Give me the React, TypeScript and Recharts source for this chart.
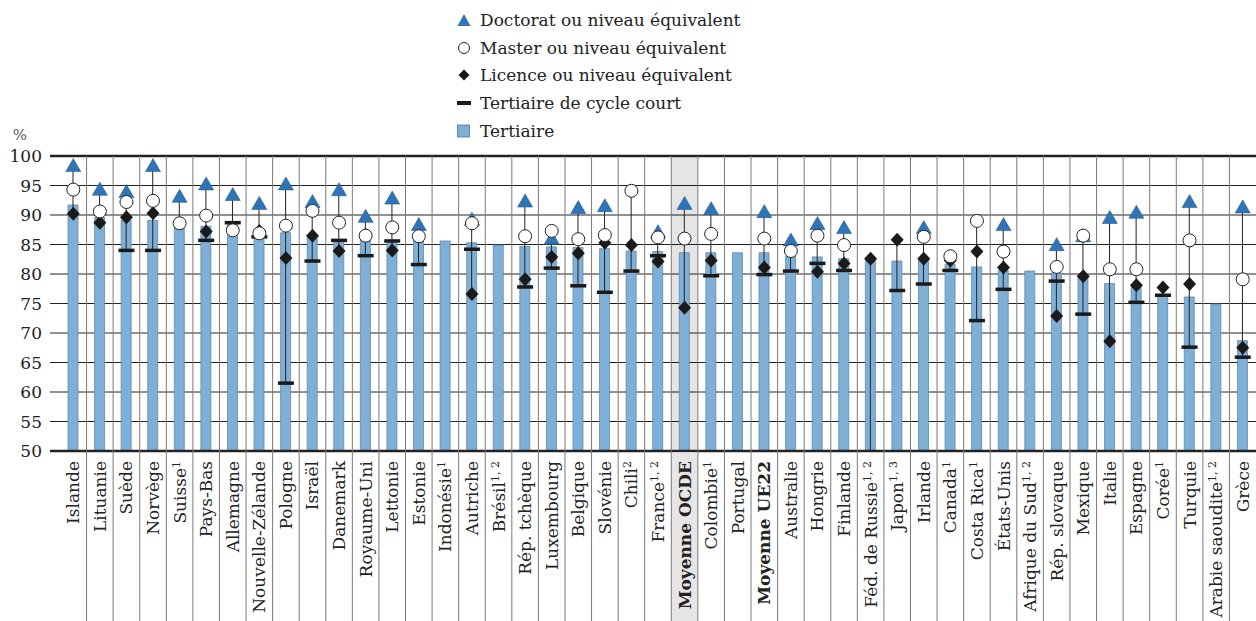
import React from 'react';
import {
  ComposedChart,
  Bar,
  Line,
  XAxis,
  YAxis,
  CartesianGrid,
  ReferenceArea,
  ReferenceLine,
} from 'recharts';

const countries = [
  'Islande', 'Lituanie', 'Suède', 'Norvège', 'Suisse', 'Pays-Bas', 'Allemagne',
  'Nouvelle-Zélande', 'Pologne', 'Israël', 'Danemark', 'Royaume-Uni', 'Lettonie',
  'Estonie', 'Indonésie', 'Autriche', 'Brésil', 'Rép. tchèque', 'Luxembourg',
  'Belgique', 'Slovénie', 'Chili', 'France', 'Moyenne OCDE', 'Colombie', 'Portugal',
  'Moyenne UE22', 'Australie', 'Hongrie', 'Finlande', 'Féd. de Russie', 'Japon',
  'Irlande', 'Canada', 'Costa Rica', 'États-Unis', 'Afrique du Sud', 'Rép. slovaque',
  'Mexique', 'Italie', 'Espagne', 'Corée', 'Turquie', 'Arabie saoudite', 'Grèce',
];

const notes = [
  '', '', '', '', '1', '', '', '', '', '', '', '', '', '', '1', '', '1, 2', '', '',
  '', '', '2', '1, 2', '', '1', '', '', '', '', '', '1, 2', '1, 3', '', '1', '1', '',
  '1, 2', '', '', '', '', '1', '', '1, 2', '',
];

const tertiary = [
  91.7, 89.6, 89.1, 89.1, 88.6, 88.1, 88.7, 86.4, 87.0, 86.3, 85.5, 85.9, 85.3, 85.7,
  85.6, 85.3, 84.9, 84.7, 84.6, 84.5, 84.3, 83.9, 83.8, 83.6, 83.6, 83.6, 83.6, 83.0,
  82.9, 82.6, 82.3, 82.2, 82.3, 81.7, 81.2, 80.6, 80.5, 80.2, 79.8, 78.4, 77.8, 76.5,
  76.1, 74.9, 68.7,
];

const shortCycle = [
  null, null, 84.0, 84.0, null, 85.7, 88.7, 86.3, 61.5, 82.2, 85.7, 83.1, 85.6, 81.6,
  null, 84.2, null, 77.8, 81.0, 78.0, 76.9, 80.5, 83.1, null, 79.7, null, 79.9, 80.5,
  81.8, 80.6, 45.0, 77.2, 78.3, 80.6, 72.1, 77.4, null, 78.8, 73.2, null, 75.2, 76.4,
  67.6, null, 65.9,
];

const bachelor = [
  90.2, 88.7, 89.6, 90.3, null, 87.2, 87.8, 87.3, 82.7, 86.5, 83.9, 86.6, 84.0, null,
  null, 76.6, null, 79.1, 82.9, 83.5, 85.3, 84.9, 82.1, 74.3, 82.3, null, 81.1, null,
  80.4, 81.8, 82.6, 85.8, 82.6, 82.3, 83.8, 81.1, null, 72.9, 79.6, 68.6, 78.1, 77.7,
  78.3, null, 67.5,
];

const master = [
  94.3, 90.6, 92.2, 92.4, 88.6, 89.9, 87.4, 86.9, 88.2, 90.7, 88.7, 86.5, 87.9, 86.4,
  null, 88.6, null, 86.4, 87.3, 85.9, 86.6, 94.1, 86.2, 86.0, 86.8, null, 86.0, 83.9,
  86.5, 84.9, null, null, 86.3, 83.0, 89.0, 83.8, null, 81.2, 86.5, 80.8, 80.8, null,
  85.7, null, 79.1,
];

const doctorate = [
  98.2, 94.2, 93.8, 98.2, 93.0, 95.1, 93.3, 91.8, 95.1, 92.1, 94.1, 89.6, 92.7, 88.2,
  null, 89.1, null, 92.2, 85.9, 91.1, 91.4, null, 87.0, 91.8, 90.9, null, 90.4, 85.6,
  88.4, 87.7, null, null, 87.7, null, null, 88.2, null, 84.8, 86.3, 89.4, 90.3, null,
  92.1, null, 91.2,
];

const yTicks = [50, 55, 60, 65, 70, 75, 80, 85, 90, 95, 100];

const legendLabels = [
  'Doctorat ou niveau équivalent',
  'Master ou niveau équivalent',
  'Licence ou niveau équivalent',
  'Tertiaire de cycle court',
  'Tertiaire',
];

const W = 1256;
const H = 621;
const TOP = 156;
const X_H = 170;
const Y_W = 50;
const PAD = 10;
const BAND = (W - Y_W - PAD) / countries.length;
const AXIS_Y = H - X_H;
const FONT = '"DejaVu Serif", serif';
const INK = '#222';
const BAR_FILL = '#7EAFD6';
const BAR_EDGE = '#6488a8';
const BLUE = '#2F75B5';

const data = countries.map((name, i) => {
  const pts = [shortCycle[i], bachelor[i], master[i], doctorate[i]].filter(
    (v) => v != null
  ) as number[];
  return {
    name,
    note: notes[i],
    tertiary: tertiary[i],
    short: shortCycle[i],
    bachelor: bachelor[i],
    master: master[i],
    doctorate: doctorate[i],
    range: pts.length ? [Math.min(...pts), Math.max(...pts)] : null,
  };
});

function CountryTick(props: any) {
  const { x, payload } = props;
  const idx = payload.index ?? props.index;
  const d = data[idx];
  const bold = d.name.startsWith('Moyenne');
  const left = x - BAND / 2;
  return (
    <g>
      {d.name === 'Moyenne OCDE' && (
        <rect x={left} y={AXIS_Y + 1.5} width={BAND} height={H - AXIS_Y} fill="#e6e6e6" />
      )}
      {idx > 0 && (
        <line x1={left} x2={left} y1={TOP} y2={H} stroke="#7a7a7a" strokeWidth={1} />
      )}
      <text
        transform={`translate(${x + 6},${AXIS_Y + 10}) rotate(-90)`}
        textAnchor="end"
        fontFamily={FONT}
        fontSize={17}
        fontWeight={bold ? 700 : 400}
        fill={INK}
      >
        {d.name}
        {d.note ? (
          <tspan dy={-6} fontSize={11}>
            {d.note}
          </tspan>
        ) : null}
      </text>
    </g>
  );
}

const empty = (p: any) => <g key={p.key ?? `e-${p.index}`} />;

function TriangleDot(p: any) {
  if (p.value == null || p.cy == null) return empty(p);
  const { cx, cy } = p;
  return (
    <polygon
      key={`t-${p.index}`}
      points={`${cx},${cy - 8} ${cx + 7.5},${cy + 5} ${cx - 7.5},${cy + 5}`}
      fill={BLUE}
      stroke="#245d92"
      strokeWidth={0.6}
    />
  );
}

function CircleDot(p: any) {
  if (p.value == null || p.cy == null) return empty(p);
  return (
    <circle key={`c-${p.index}`} cx={p.cx} cy={p.cy} r={6.5} fill="#fff" stroke={INK} strokeWidth={1} />
  );
}

function DiamondDot(p: any) {
  if (p.value == null || p.cy == null) return empty(p);
  const { cx, cy } = p;
  return (
    <polygon
      key={`d-${p.index}`}
      points={`${cx},${cy - 7} ${cx + 6.5},${cy} ${cx},${cy + 7} ${cx - 6.5},${cy}`}
      fill="#1a1a1a"
    />
  );
}

function DashDot(p: any) {
  if (p.value == null || p.cy == null) return empty(p);
  return (
    <rect key={`s-${p.index}`} x={p.cx - 8} y={p.cy - 1.75} width={16} height={3.5} fill="#1a1a1a" />
  );
}

function RangeLine(p: any) {
  const { x, y, width, height } = p;
  if (x == null || y == null || !height) return <g />;
  const cx = x + width / 2;
  const y1 = Math.min(y, y + height);
  const y2 = Math.max(y, y + height);
  return <line x1={cx} x2={cx} y1={y1} y2={y2} stroke={INK} strokeWidth={1} />;
}

function LegendIcon({ i }: { i: number }) {
  return (
    <svg width={14} height={14} style={{ marginRight: 9, flex: 'none' }}>
      {i === 0 && <polygon points="7,1 13.5,13 0.5,13" fill={BLUE} />}
      {i === 1 && <circle cx={7} cy={7} r={5.5} fill="#fff" stroke={INK} strokeWidth={1} />}
      {i === 2 && <polygon points="7,1.5 12.5,7 7,12.5 1.5,7" fill="#1a1a1a" />}
      {i === 3 && <rect x={0} y={5} width={14} height={4} fill="#1a1a1a" />}
      {i === 4 && <rect x={0.5} y={1} width={12} height={12} fill={BAR_FILL} stroke={BAR_EDGE} />}
    </svg>
  );
}

export default function App() {
  return (
    <div style={{ position: 'absolute', left: 0, top: 0, width: W, height: H, background: '#fff' }}>
      <div style={{ position: 'absolute', left: 457, top: 6, fontFamily: FONT, fontSize: 17, color: INK }}>
        {legendLabels.map((label, i) => (
          <div key={label} style={{ display: 'flex', alignItems: 'center', height: 27.7 }}>
            <LegendIcon i={i} />
            <span>{label}</span>
          </div>
        ))}
      </div>
      <ComposedChart
        width={W}
        height={H}
        data={data}
        margin={{ top: TOP, right: 0, bottom: 0, left: 0 }}
        barGap={-10}
      >
        <ReferenceArea x1="Moyenne OCDE" x2="Moyenne OCDE" fill="#000" fillOpacity={0.1} stroke="none" />
        <CartesianGrid vertical={false} stroke={INK} strokeWidth={1} />
        <XAxis
          dataKey="name"
          interval={0}
          height={X_H}
          padding={{ left: PAD, right: 0 }}
          tickLine={false}
          axisLine={{ stroke: INK, strokeWidth: 2.5 }}
          tick={<CountryTick />}
        />
        <YAxis
          width={Y_W}
          domain={[50, 100]}
          ticks={yTicks}
          allowDataOverflow
          tickLine={false}
          axisLine={false}
          tick={{ fill: INK, fontSize: 17, fontFamily: FONT }}
          label={() => (
            <text x={20} y={TOP - 16} textAnchor="middle" fontFamily={FONT} fontSize={15} fill="#555">
              %
            </text>
          )}
        />
        <ReferenceLine y={100} stroke={INK} strokeWidth={2.5} />
        <Bar dataKey="tertiary" barSize={10} fill={BAR_FILL} stroke={BAR_EDGE} strokeWidth={0.8} isAnimationActive={false} />
        <Bar dataKey="range" barSize={10} shape={<RangeLine />} isAnimationActive={false} />
        <Line dataKey="short" stroke="none" dot={DashDot} activeDot={false} isAnimationActive={false} />
        <Line dataKey="bachelor" stroke="none" dot={DiamondDot} activeDot={false} isAnimationActive={false} />
        <Line dataKey="doctorate" stroke="none" dot={TriangleDot} activeDot={false} isAnimationActive={false} />
        <Line dataKey="master" stroke="none" dot={CircleDot} activeDot={false} isAnimationActive={false} />
      </ComposedChart>
    </div>
  );
}
